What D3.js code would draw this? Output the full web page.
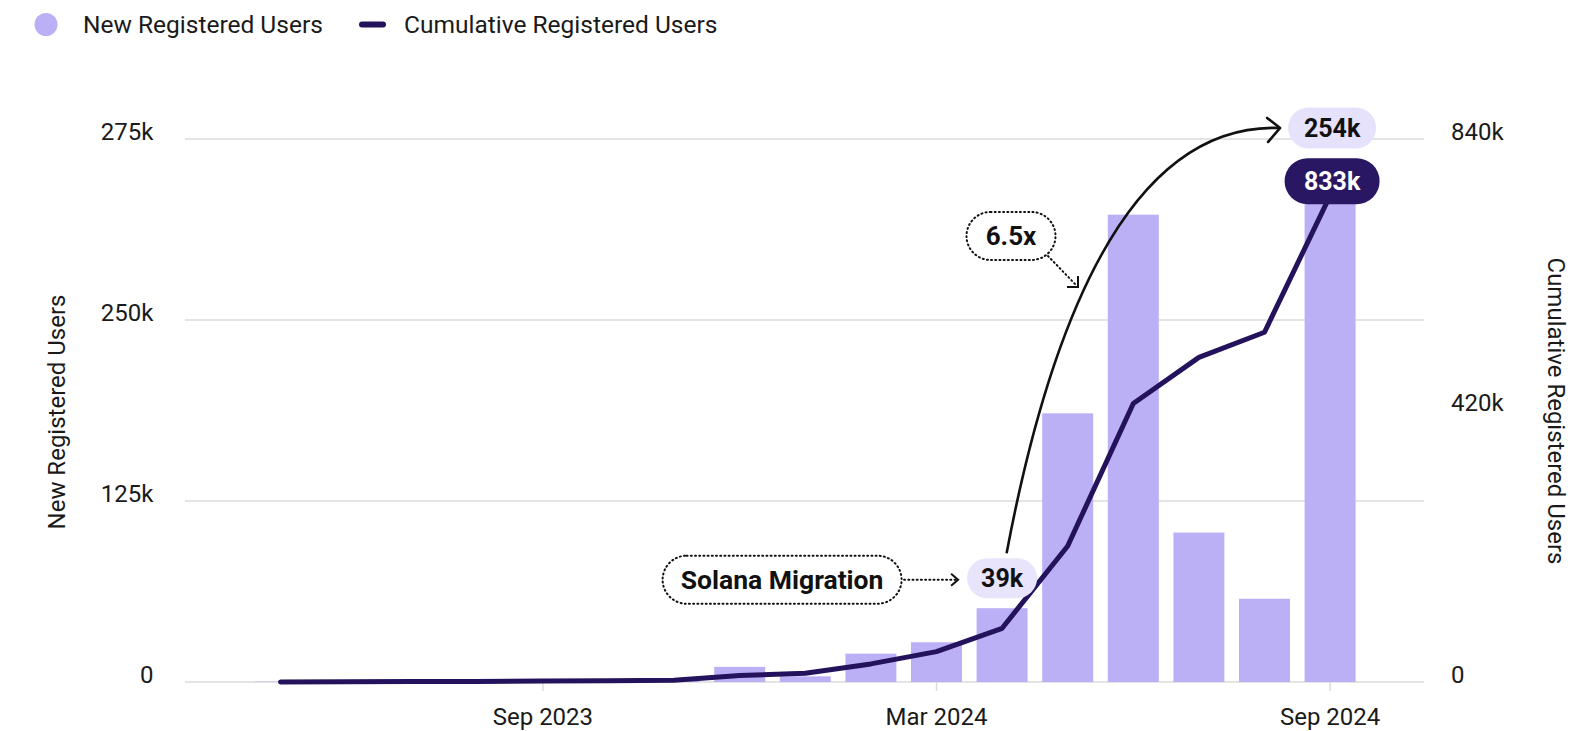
<!DOCTYPE html>
<html>
<head>
<meta charset="utf-8">
<script src="https://cdn.jsdelivr.net/npm/d3@7"></script>
<style>
body { margin: 0; background: #fff; }
text { font-family: Roboto, "Noto Sans", sans-serif; }
</style>
</head>
<body>
<div id="root"></div>
<script>
// one bar per month
const months = ["May 2023","Jun 2023","Jul 2023","Aug 2023","Sep 2023","Oct 2023","Nov 2023",
	"Dec 2023","Jan 2024","Feb 2024","Mar 2024","Apr 2024","May 2024","Jun 2024","Jul 2024","Aug 2024","Sep 2024"];
// new registered users per month (bars)
const newUsers = [200,300,200,300,500,500,1000,8000,3000,15000,21000,39000,142000,247000,79000,44000,254000];
// cumulative registered users (line)
const cumulativeUsers = [200,500,700,1000,1500,2000,3000,11000,15000,31000,52000,92000,233000,477000,556000,599000,833000];
// axis labels as printed on the chart
const xTickLabels = ["Sep 2023","Mar 2024","Sep 2024"];
const leftTickLabels = ["0","125k","250k","275k"];
const rightTickValues = [0,420000,840000];

const width = 1583;
const height = 731;
const barColor = "#bbaff5";
const lineColor = "#24135c";

const svg = d3.select("#root")
	.append("svg")
	.attr("width", width)
	.attr("height", height);

//scales
const x = d3.scaleBand()
	.domain(months)
	.range([247.7, 1362.9])
	.paddingInner(0.2226)
	.paddingOuter(0.1113);
const cx = (m) => x(m) + x.bandwidth() / 2;

const yBar = d3.scaleLinear().domain([0, 287000]).range([682, 139]);
const yLine = d3.scaleLinear().domain([0, 930000]).range([682, 139]);
//left labels sit on evenly spaced gridlines
const yLeft = d3.scalePoint().domain(leftTickLabels).range([682, 139]);
const yRight = d3.scaleLinear().domain([0, 840000]).range([682, 139]);

//gridlines
svg.append("g")
	.selectAll("line")
	.data(leftTickLabels)
	.enter()
	.append("line")
	.attr("x1", 185)
	.attr("x2", 1424)
	.attr("y1", (d) => yLeft(d))
	.attr("y2", (d) => yLeft(d))
	.attr("stroke", "#e4e4e6")
	.attr("stroke-width", 2);

//left axis
const leftAxis = svg.append("g")
	.attr("transform", "translate(185,0)")
	.call(d3.axisLeft(yLeft).tickSize(0).tickPadding(31.5));
leftAxis.select(".domain").remove();
leftAxis.selectAll("text")
	.attr("dy", 0)
	.attr("fill", "#1a1a1a")
	.style("font-size", "24px");

//right axis
const rightAxis = svg.append("g")
	.attr("transform", "translate(1424,0)")
	.call(d3.axisRight(yRight)
		.tickValues(rightTickValues)
		.tickFormat((d) => d === 0 ? "0" : (d / 1000) + "k")
		.tickSize(0)
		.tickPadding(27));
rightAxis.select(".domain").remove();
rightAxis.selectAll("text")
	.attr("dy", 0)
	.attr("fill", "#1a1a1a")
	.style("font-size", "24px");

//x axis
const xAxis = svg.append("g")
	.attr("transform", "translate(0,682)")
	.call(d3.axisBottom(x).tickValues(xTickLabels).tickSize(9).tickPadding(17));
xAxis.select(".domain").remove();
xAxis.selectAll("line").attr("stroke", "#dcdcde").attr("stroke-width", 1.5);
xAxis.selectAll("text")
	.attr("fill", "#1a1a1a")
	.style("font-size", "24px");

//axis titles
svg.append("text")
	.attr("transform", "translate(64.5,412) rotate(-90)")
	.attr("text-anchor", "middle")
	.attr("fill", "#1a1a1a")
	.style("font-size", "24px")
	.text("New Registered Users");

svg.append("text")
	.attr("transform", "translate(1548,411) rotate(90)")
	.attr("text-anchor", "middle")
	.attr("fill", "#1a1a1a")
	.style("font-size", "24px")
	.text("Cumulative Registered Users");

//bars
svg.append("g")
	.selectAll("rect")
	.data(newUsers)
	.enter()
	.append("rect")
	.attr("x", (d, i) => x(months[i]))
	.attr("width", x.bandwidth())
	.attr("y", (d) => yBar(d))
	.attr("height", (d) => yBar(0) - yBar(d))
	.attr("fill", barColor);

//cumulative line
const line = d3.line()
	.x((d, i) => cx(months[i]))
	.y((d) => yLine(d));

svg.append("path")
	.datum(cumulativeUsers)
	.attr("d", line)
	.attr("fill", "none")
	.attr("stroke", lineColor)
	.attr("stroke-width", 5)
	.attr("stroke-linejoin", "round")
	.attr("stroke-linecap", "round");

//legend
svg.append("circle")
	.attr("cx", 46)
	.attr("cy", 24.5)
	.attr("r", 11.5)
	.attr("fill", barColor);
svg.append("text")
	.attr("x", 83)
	.attr("y", 32.5)
	.attr("fill", "#1a1a1a")
	.style("font-size", "24.5px")
	.text("New Registered Users");
svg.append("line")
	.attr("x1", 362)
	.attr("x2", 383)
	.attr("y1", 24.5)
	.attr("y2", 24.5)
	.attr("stroke", lineColor)
	.attr("stroke-width", 6)
	.attr("stroke-linecap", "round");
svg.append("text")
	.attr("x", 404)
	.attr("y", 32.5)
	.attr("fill", "#1a1a1a")
	.style("font-size", "24.5px")
	.text("Cumulative Registered Users");

//annotations
const dotted = "1 3.2";

function pill(cxp, cyp, w, h, fill, label, textFill) {
	svg.append("rect")
		.attr("x", cxp - w / 2)
		.attr("y", cyp - h / 2)
		.attr("width", w)
		.attr("height", h)
		.attr("rx", h / 2)
		.attr("fill", fill);
	svg.append("text")
		.attr("x", cxp)
		.attr("y", cyp)
		.attr("dy", "0.35em")
		.attr("text-anchor", "middle")
		.attr("fill", textFill)
		.style("font-size", "25px")
		.style("font-weight", "bold")
		.text(label);
}

function dottedBox(cxp, cyp, w, h, label, size) {
	svg.append("rect")
		.attr("x", cxp - w / 2)
		.attr("y", cyp - h / 2)
		.attr("width", w)
		.attr("height", h)
		.attr("rx", h / 2)
		.attr("fill", "white")
		.attr("stroke", "#111")
		.attr("stroke-width", 2)
		.attr("stroke-dasharray", dotted)
		.attr("stroke-linecap", "round");
	svg.append("text")
		.attr("x", cxp)
		.attr("y", cyp)
		.attr("dy", "0.35em")
		.attr("text-anchor", "middle")
		.attr("fill", "#111")
		.style("font-size", size + "px")
		.style("font-weight", "bold")
		.text(label);
}

const aprX = cx("Apr 2024");
const sepX = cx("Sep 2024");
const aprTop = yBar(newUsers[11]) - 30;
const sepTop = yBar(newUsers[16]) - 73.5;
const cumEnd = yLine(cumulativeUsers[16]) - 14.5;

//curved arrow 39k -> 254k
svg.append("path")
	.attr("d", "M" + (aprX + 4.5) + "," + (aprTop - 25) +
		" Q1088,122 " + (sepX - 51) + "," + sepTop)
	.attr("fill", "none")
	.attr("stroke", "#111")
	.attr("stroke-width", 2.6);
svg.append("path")
	.attr("d", "M" + (sepX - 63) + "," + (sepTop - 10) + " L" + (sepX - 50) + "," + sepTop +
		" L" + (sepX - 62) + "," + (sepTop + 14))
	.attr("fill", "none")
	.attr("stroke", "#111")
	.attr("stroke-width", 2.6)
	.attr("stroke-linejoin", "round")
	.attr("stroke-linecap", "round");

//Solana Migration box and arrow
dottedBox(aprX - 220, aprTop + 1.5, 239, 48, "Solana Migration", 26.5);
svg.append("line")
	.attr("x1", aprX - 98)
	.attr("x2", aprX - 45)
	.attr("y1", aprTop + 1.5)
	.attr("y2", aprTop + 1.5)
	.attr("stroke", "#111")
	.attr("stroke-width", 2)
	.attr("stroke-dasharray", dotted)
	.attr("stroke-linecap", "round");
svg.append("path")
	.attr("d", "M" + (aprX - 51) + "," + (aprTop - 4.5) + " L" + (aprX - 44) + "," + (aprTop + 1.5) +
		" L" + (aprX - 51) + "," + (aprTop + 7.5))
	.attr("fill", "none")
	.attr("stroke", "#111")
	.attr("stroke-width", 2);

//6.5x box and arrow
dottedBox(1011, 236, 89, 48, "6.5x", 26);
svg.append("line")
	.attr("x1", 1048)
	.attr("y1", 256)
	.attr("x2", 1076)
	.attr("y2", 285)
	.attr("stroke", "#111")
	.attr("stroke-width", 2)
	.attr("stroke-dasharray", dotted)
	.attr("stroke-linecap", "round");
svg.append("path")
	.attr("d", "M1067,287 L1078,287 L1078,276")
	.attr("fill", "none")
	.attr("stroke", "#111")
	.attr("stroke-width", 2);

//value pills
pill(aprX, aprTop, 70, 40, "#e8e4fb", "39k", "#111");
pill(sepX + 2, sepTop, 88, 41, "#e6e2fb", "254k", "#111");
pill(sepX + 2, cumEnd, 95, 46, "#2a1763", "833k", "#fff");
</script>
</body>
</html>
